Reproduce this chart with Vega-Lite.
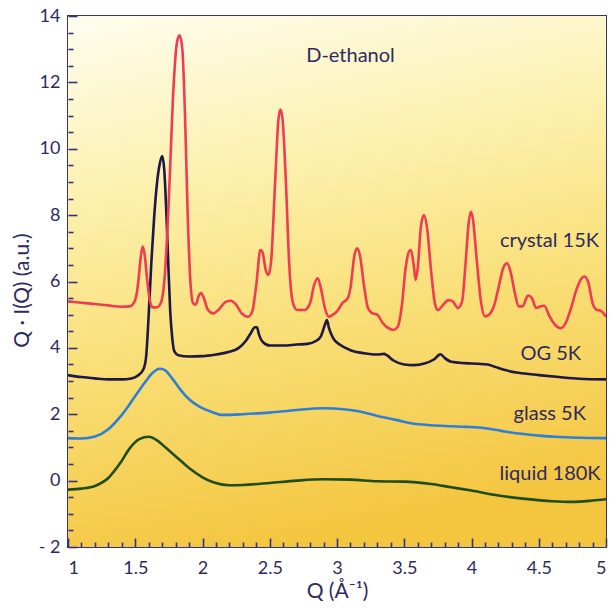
{
  "$schema": "https://vega.github.io/schema/vega-lite/v6.json",
  "width": 538,
  "height": 531,
  "autosize": "none",
  "padding": {"left": 68, "top": 16, "right": 7, "bottom": 62},
  "background": "white",
  "config": {
    "font": "Lato",
    "view": {"stroke": "#34337a", "strokeWidth": 2},
    "axis": {"grid": false, "domain": false, "tickColor": "#34337a", "tickWidth": 1.6, "labelColor": "#2e2a5e", "titleColor": "#2e2a5e", "labelFont": "Lato", "titleFont": "Lato", "labelFontSize": 18, "titleFontSize": 21, "titleFontWeight": "normal"}
  },
  "resolve": {"axis": {"x": "independent", "y": "independent"}},
  "layer": [
    {
      "data": {"values": [{"q0": 1, "q1": 5, "y0": -2, "y1": 14}]},
      "mark": {"type": "rect", "color": {"gradient": "linear", "x1": 0.15, "y1": 0, "x2": 0.35, "y2": 1, "stops": [{"offset": 0, "color": "#fefcea"}, {"offset": 0.3, "color": "#fcf1b0"}, {"offset": 0.6, "color": "#f9e07a"}, {"offset": 1, "color": "#f4c640"}]}},
      "encoding": {
        "x": {"field": "q0", "type": "quantitative", "scale": {"domain": [1, 5], "nice": false, "zero": false},
          "axis": {"orient": "bottom", "zindex": 3, "values": [1.1,1.2,1.3,1.4,1.6,1.7,1.8,1.9,2.1,2.2,2.3,2.4,2.6,2.7,2.8,2.9,3.1,3.2,3.3,3.4,3.6,3.7,3.8,3.9,4.1,4.2,4.3,4.4,4.6,4.7,4.8,4.9], "tickSize": -5, "labels": false, "title": null}},
        "x2": {"field": "q1"},
        "y": {"field": "y0", "type": "quantitative", "scale": {"domain": [-2, 14], "nice": false, "zero": false},
          "axis": {"orient": "left", "zindex": 3, "values": [-1.5,-1,-0.5,0.5,1,1.5,2.5,3,3.5,4.5,5,5.5,6.5,7,7.5,8.5,9,9.5,10.5,11,11.5,12.5,13,13.5], "tickSize": -5, "labels": false, "title": null}},
        "y2": {"field": "y1"}
      }
    },
    {
      "data": {"values": [
        {"s":"liquid","q":1.00,"y":-0.27},{"s":"liquid","q":1.10,"y":-0.24},{"s":"liquid","q":1.20,"y":-0.16},{"s":"liquid","q":1.30,"y":0.08},{"s":"liquid","q":1.387,"y":0.52},{"s":"liquid","q":1.46,"y":0.98},{"s":"liquid","q":1.53,"y":1.25},{"s":"liquid","q":1.60,"y":1.32},{"s":"liquid","q":1.66,"y":1.22},{"s":"liquid","q":1.73,"y":0.98},{"s":"liquid","q":1.81,"y":0.70},{"s":"liquid","q":1.90,"y":0.38},{"s":"liquid","q":2.00,"y":0.10},{"s":"liquid","q":2.08,"y":-0.05},{"s":"liquid","q":2.20,"y":-0.14},{"s":"liquid","q":2.30,"y":-0.13},{"s":"liquid","q":2.50,"y":-0.07},{"s":"liquid","q":2.70,"y":0.0},{"s":"liquid","q":2.90,"y":0.04},{"s":"liquid","q":3.10,"y":0.03},{"s":"liquid","q":3.30,"y":-0.02},{"s":"liquid","q":3.50,"y":-0.03},{"s":"liquid","q":3.70,"y":-0.10},{"s":"liquid","q":3.85,"y":-0.20},{"s":"liquid","q":4.00,"y":-0.30},{"s":"liquid","q":4.20,"y":-0.45},{"s":"liquid","q":4.40,"y":-0.55},{"s":"liquid","q":4.60,"y":-0.62},{"s":"liquid","q":4.75,"y":-0.64},{"s":"liquid","q":4.90,"y":-0.60},{"s":"liquid","q":5.00,"y":-0.56},
        {"s":"glass","q":1.00,"y":1.28},{"s":"glass","q":1.10,"y":1.27},{"s":"glass","q":1.20,"y":1.33},{"s":"glass","q":1.30,"y":1.55},{"s":"glass","q":1.40,"y":1.98},{"s":"glass","q":1.50,"y":2.55},{"s":"glass","q":1.57,"y":2.95},{"s":"glass","q":1.63,"y":3.25},{"s":"glass","q":1.68,"y":3.37},{"s":"glass","q":1.72,"y":3.33},{"s":"glass","q":1.78,"y":3.05},{"s":"glass","q":1.84,"y":2.72},{"s":"glass","q":1.90,"y":2.45},{"s":"glass","q":1.98,"y":2.22},{"s":"glass","q":2.06,"y":2.08},{"s":"glass","q":2.15,"y":1.98},{"s":"glass","q":2.30,"y":2.0},{"s":"glass","q":2.50,"y":2.05},{"s":"glass","q":2.70,"y":2.13},{"s":"glass","q":2.90,"y":2.18},{"s":"glass","q":3.05,"y":2.15},{"s":"glass","q":3.17,"y":2.08},{"s":"glass","q":3.30,"y":1.95},{"s":"glass","q":3.44,"y":1.83},{"s":"glass","q":3.55,"y":1.73},{"s":"glass","q":3.70,"y":1.67},{"s":"glass","q":3.85,"y":1.64},{"s":"glass","q":3.96,"y":1.62},{"s":"glass","q":4.10,"y":1.58},{"s":"glass","q":4.22,"y":1.50},{"s":"glass","q":4.35,"y":1.42},{"s":"glass","q":4.50,"y":1.36},{"s":"glass","q":4.62,"y":1.32},{"s":"glass","q":4.80,"y":1.29},{"s":"glass","q":5.00,"y":1.28},
        {"s":"OG","q":1.00,"y":3.18},{"s":"OG","q":1.10,"y":3.12},{"s":"OG","q":1.20,"y":3.08},{"s":"OG","q":1.30,"y":3.05},{"s":"OG","q":1.40,"y":3.05},{"s":"OG","q":1.47,"y":3.08},{"s":"OG","q":1.52,"y":3.17},{"s":"OG","q":1.56,"y":3.35},{"s":"OG","q":1.58,"y":3.7},{"s":"OG","q":1.60,"y":5.0},{"s":"OG","q":1.62,"y":6.6},{"s":"OG","q":1.64,"y":7.9},{"s":"OG","q":1.66,"y":8.9},{"s":"OG","q":1.68,"y":9.5},{"s":"OG","q":1.70,"y":9.78},{"s":"OG","q":1.715,"y":9.4},{"s":"OG","q":1.73,"y":8.2},{"s":"OG","q":1.745,"y":6.6},{"s":"OG","q":1.76,"y":5.1},{"s":"OG","q":1.775,"y":4.3},{"s":"OG","q":1.79,"y":3.9},{"s":"OG","q":1.82,"y":3.78},{"s":"OG","q":1.90,"y":3.74},{"s":"OG","q":2.00,"y":3.75},{"s":"OG","q":2.10,"y":3.8},{"s":"OG","q":2.20,"y":3.88},{"s":"OG","q":2.27,"y":4.0},{"s":"OG","q":2.32,"y":4.2},{"s":"OG","q":2.36,"y":4.45},{"s":"OG","q":2.39,"y":4.62},{"s":"OG","q":2.405,"y":4.62},{"s":"OG","q":2.42,"y":4.4},{"s":"OG","q":2.45,"y":4.17},{"s":"OG","q":2.50,"y":4.07},{"s":"OG","q":2.60,"y":4.07},{"s":"OG","q":2.70,"y":4.1},{"s":"OG","q":2.78,"y":4.12},{"s":"OG","q":2.84,"y":4.2},{"s":"OG","q":2.88,"y":4.35},{"s":"OG","q":2.91,"y":4.7},{"s":"OG","q":2.925,"y":4.84},{"s":"OG","q":2.94,"y":4.6},{"s":"OG","q":2.97,"y":4.3},{"s":"OG","q":3.02,"y":4.1},{"s":"OG","q":3.10,"y":3.93},{"s":"OG","q":3.20,"y":3.84},{"s":"OG","q":3.30,"y":3.8},{"s":"OG","q":3.35,"y":3.82},{"s":"OG","q":3.37,"y":3.78},{"s":"OG","q":3.42,"y":3.62},{"s":"OG","q":3.50,"y":3.5},{"s":"OG","q":3.57,"y":3.48},{"s":"OG","q":3.65,"y":3.53},{"s":"OG","q":3.72,"y":3.65},{"s":"OG","q":3.77,"y":3.81},{"s":"OG","q":3.80,"y":3.7},{"s":"OG","q":3.85,"y":3.58},{"s":"OG","q":3.95,"y":3.54},{"s":"OG","q":4.05,"y":3.52},{"s":"OG","q":4.12,"y":3.5},{"s":"OG","q":4.18,"y":3.42},{"s":"OG","q":4.25,"y":3.33},{"s":"OG","q":4.35,"y":3.25},{"s":"OG","q":4.50,"y":3.18},{"s":"OG","q":4.65,"y":3.12},{"s":"OG","q":4.80,"y":3.07},{"s":"OG","q":5.00,"y":3.05},
        {"s":"crystal","q":1.00,"y":5.40},{"s":"crystal","q":1.10,"y":5.36},{"s":"crystal","q":1.20,"y":5.32},{"s":"crystal","q":1.30,"y":5.28},{"s":"crystal","q":1.40,"y":5.24},{"s":"crystal","q":1.46,"y":5.25},{"s":"crystal","q":1.50,"y":5.45},{"s":"crystal","q":1.52,"y":5.9},{"s":"crystal","q":1.54,"y":6.7},{"s":"crystal","q":1.555,"y":7.05},{"s":"crystal","q":1.57,"y":6.8},{"s":"crystal","q":1.59,"y":6.0},{"s":"crystal","q":1.61,"y":5.4},{"s":"crystal","q":1.63,"y":5.22},{"s":"crystal","q":1.66,"y":5.22},{"s":"crystal","q":1.69,"y":5.35},{"s":"crystal","q":1.72,"y":6.2},{"s":"crystal","q":1.75,"y":8.5},{"s":"crystal","q":1.78,"y":11.5},{"s":"crystal","q":1.81,"y":13.2},{"s":"crystal","q":1.83,"y":13.42},{"s":"crystal","q":1.85,"y":13.0},{"s":"crystal","q":1.87,"y":11.0},{"s":"crystal","q":1.89,"y":8.0},{"s":"crystal","q":1.91,"y":6.0},{"s":"crystal","q":1.93,"y":5.35},{"s":"crystal","q":1.95,"y":5.3},{"s":"crystal","q":1.97,"y":5.55},{"s":"crystal","q":1.99,"y":5.65},{"s":"crystal","q":2.01,"y":5.5},{"s":"crystal","q":2.04,"y":5.15},{"s":"crystal","q":2.08,"y":5.04},{"s":"crystal","q":2.12,"y":5.15},{"s":"crystal","q":2.17,"y":5.38},{"s":"crystal","q":2.21,"y":5.42},{"s":"crystal","q":2.25,"y":5.3},{"s":"crystal","q":2.29,"y":5.05},{"s":"crystal","q":2.34,"y":4.94},{"s":"crystal","q":2.37,"y":5.1},{"s":"crystal","q":2.40,"y":5.9},{"s":"crystal","q":2.43,"y":6.95},{"s":"crystal","q":2.445,"y":6.9},{"s":"crystal","q":2.47,"y":6.35},{"s":"crystal","q":2.49,"y":6.2},{"s":"crystal","q":2.51,"y":6.6},{"s":"crystal","q":2.54,"y":9.0},{"s":"crystal","q":2.565,"y":10.9},{"s":"crystal","q":2.58,"y":11.18},{"s":"crystal","q":2.595,"y":10.9},{"s":"crystal","q":2.62,"y":9.0},{"s":"crystal","q":2.645,"y":6.5},{"s":"crystal","q":2.67,"y":5.4},{"s":"crystal","q":2.70,"y":5.15},{"s":"crystal","q":2.76,"y":5.14},{"s":"crystal","q":2.80,"y":5.35},{"s":"crystal","q":2.83,"y":5.9},{"s":"crystal","q":2.857,"y":6.1},{"s":"crystal","q":2.88,"y":5.8},{"s":"crystal","q":2.91,"y":5.2},{"s":"crystal","q":2.94,"y":4.94},{"s":"crystal","q":2.97,"y":5.0},{"s":"crystal","q":3.00,"y":5.1},{"s":"crystal","q":3.04,"y":5.35},{"s":"crystal","q":3.08,"y":5.5},{"s":"crystal","q":3.10,"y":5.8},{"s":"crystal","q":3.13,"y":6.8},{"s":"crystal","q":3.15,"y":7.0},{"s":"crystal","q":3.17,"y":6.8},{"s":"crystal","q":3.20,"y":5.9},{"s":"crystal","q":3.23,"y":5.2},{"s":"crystal","q":3.26,"y":5.05},{"s":"crystal","q":3.30,"y":5.0},{"s":"crystal","q":3.34,"y":4.75},{"s":"crystal","q":3.38,"y":4.6},{"s":"crystal","q":3.42,"y":4.54},{"s":"crystal","q":3.45,"y":4.62},{"s":"crystal","q":3.48,"y":5.2},{"s":"crystal","q":3.51,"y":6.4},{"s":"crystal","q":3.535,"y":6.9},{"s":"crystal","q":3.55,"y":6.95},{"s":"crystal","q":3.57,"y":6.5},{"s":"crystal","q":3.585,"y":6.05},{"s":"crystal","q":3.60,"y":6.4},{"s":"crystal","q":3.625,"y":7.7},{"s":"crystal","q":3.647,"y":8.0},{"s":"crystal","q":3.67,"y":7.6},{"s":"crystal","q":3.70,"y":6.3},{"s":"crystal","q":3.73,"y":5.3},{"s":"crystal","q":3.75,"y":5.14},{"s":"crystal","q":3.79,"y":5.3},{"s":"crystal","q":3.83,"y":5.44},{"s":"crystal","q":3.86,"y":5.4},{"s":"crystal","q":3.90,"y":5.2},{"s":"crystal","q":3.93,"y":5.4},{"s":"crystal","q":3.955,"y":6.5},{"s":"crystal","q":3.98,"y":7.8},{"s":"crystal","q":3.995,"y":8.1},{"s":"crystal","q":4.01,"y":7.9},{"s":"crystal","q":4.04,"y":6.6},{"s":"crystal","q":4.07,"y":5.4},{"s":"crystal","q":4.10,"y":4.95},{"s":"crystal","q":4.13,"y":5.0},{"s":"crystal","q":4.17,"y":5.3},{"s":"crystal","q":4.20,"y":5.8},{"s":"crystal","q":4.24,"y":6.45},{"s":"crystal","q":4.265,"y":6.55},{"s":"crystal","q":4.29,"y":6.3},{"s":"crystal","q":4.32,"y":5.7},{"s":"crystal","q":4.35,"y":5.25},{"s":"crystal","q":4.38,"y":5.25},{"s":"crystal","q":4.42,"y":5.58},{"s":"crystal","q":4.45,"y":5.5},{"s":"crystal","q":4.48,"y":5.2},{"s":"crystal","q":4.51,"y":5.25},{"s":"crystal","q":4.54,"y":5.27},{"s":"crystal","q":4.58,"y":4.95},{"s":"crystal","q":4.62,"y":4.7},{"s":"crystal","q":4.665,"y":4.59},{"s":"crystal","q":4.70,"y":4.75},{"s":"crystal","q":4.74,"y":5.2},{"s":"crystal","q":4.78,"y":5.75},{"s":"crystal","q":4.82,"y":6.1},{"s":"crystal","q":4.84,"y":6.15},{"s":"crystal","q":4.87,"y":5.95},{"s":"crystal","q":4.90,"y":5.35},{"s":"crystal","q":4.93,"y":5.15},{"s":"crystal","q":4.96,"y":5.12},{"s":"crystal","q":5.00,"y":4.94}
      ]},
      "mark": {"type": "line", "interpolate": "monotone", "strokeWidth": 2.6, "clip": true},
      "encoding": {
        "x": {"field": "q", "type": "quantitative",
          "axis": {"orient": "bottom", "zindex": 3, "values": [1, 1.5, 2, 2.5, 3, 3.5, 4, 4.5, 5], "format": "~g", "tickSize": -9, "labelPadding": 21, "title": "Q (Å⁻¹)", "titleY": 44, "titleBaseline": "middle"}},
        "y": {"field": "y", "type": "quantitative",
          "axis": {"orient": "left", "zindex": 3, "values": [-2, 0, 2, 4, 6, 8, 10, 12, 14], "tickSize": -9, "labelPadding": 17, "labelExpr": "datum.value < 0 ? '- ' + (-datum.value) : datum.label", "title": "Q · I(Q) (a.u.)", "titleX": -46, "titleY": 274, "titleBaseline": "middle"}},
        "color": {"field": "s", "type": "nominal", "legend": null,
          "scale": {"domain": ["liquid", "glass", "OG", "crystal"], "range": ["#1f4d1a", "#2e7fd6", "#1d1846", "#ef3c52"]}},
        "order": {"field": "q", "type": "quantitative"}
      }
    },
    {
      "data": {"values": [
        {"label": "D-ethanol", "q": 3.43, "y": 12.62},
        {"label": "crystal 15K", "q": 4.948, "y": 7.05},
        {"label": "OG 5K", "q": 4.814, "y": 3.63},
        {"label": "glass 5K", "q": 4.851, "y": 1.83},
        {"label": "liquid 180K", "q": 4.96, "y": 0.02}
      ]},
      "mark": {"type": "text", "align": "right", "baseline": "alphabetic", "font": "Lato", "fontSize": 20, "color": "#2e2a5e"},
      "encoding": {
        "x": {"field": "q", "type": "quantitative", "axis": null},
        "y": {"field": "y", "type": "quantitative", "axis": null},
        "text": {"field": "label"}
      }
    }
  ]
}
